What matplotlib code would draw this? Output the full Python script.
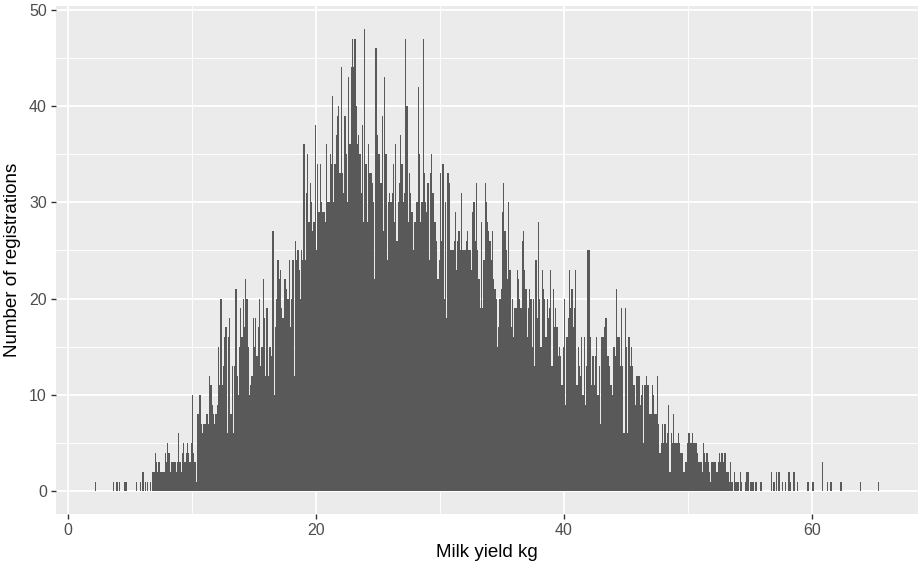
import numpy as np
import matplotlib
matplotlib.use("Agg")
import matplotlib.pyplot as plt
from matplotlib.ticker import MultipleLocator

plt.rcParams["font.family"] = ["Liberation Sans", "DejaVu Sans"]

# histogram of milk yield, 0.1 kg bins starting at 2.0 kg (one row per kg)
bin_start = 2.0
bin_width = 0.1
counts = [
    0, 0, 1, 0, 0, 0, 0, 0, 0, 0,            # 2
    0, 0, 0, 0, 0, 0, 1, 0, 0, 1,            # 3
    0, 1, 0, 0, 0, 1, 1, 1, 0, 0,            # 4
    0, 0, 0, 0, 0, 1, 0, 0, 1, 0,            # 5
    2, 0, 1, 0, 1, 0, 1, 0, 2, 2,            # 6
    4, 3, 2, 3, 2, 2, 2, 2, 4, 3,            # 7
    5, 4, 2, 3, 3, 3, 3, 2, 3, 6,            # 8
    3, 2, 4, 5, 3, 4, 5, 4, 3, 5,            # 9
    10, 4, 3, 1, 8, 8, 10, 7, 6, 7,          # 10
    7, 8, 8, 7, 12, 11, 9, 8, 7, 8,          # 11
    9, 15, 11, 20, 11, 13, 16, 17, 6, 16,    # 12
    18, 8, 13, 6, 13, 21, 12, 10, 15, 19,    # 13
    16, 20, 17, 22, 20, 15, 10, 11, 12, 18,  # 14
    15, 18, 14, 17, 20, 13, 15, 22, 18, 12,  # 15
    19, 12, 15, 15, 14, 27, 10, 17, 20, 24,  # 16
    22, 23, 19, 18, 22, 22, 21, 20, 24, 17,  # 17
    20, 24, 12, 26, 24, 25, 23, 20, 25, 24,  # 18
    36, 24, 31, 35, 28, 32, 30, 27, 28, 38,  # 19
    25, 34, 29, 34, 30, 29, 29, 28, 36, 30,  # 20
    30, 35, 34, 41, 30, 34, 37, 39, 40, 33,  # 21
    44, 33, 31, 39, 35, 30, 43, 36, 44, 47,  # 22
    44, 47, 40, 36, 37, 35, 31, 38, 28, 48,  # 23
    34, 28, 36, 33, 33, 32, 30, 22, 46, 37,  # 24
    35, 35, 32, 39, 27, 43, 35, 24, 30, 31,  # 25
    30, 31, 34, 28, 36, 26, 30, 32, 37, 34,  # 26
    30, 31, 47, 40, 28, 33, 31, 29, 25, 28,  # 27
    28, 30, 42, 35, 28, 30, 47, 33, 30, 29,  # 28
    32, 24, 33, 35, 31, 28, 28, 26, 22, 24,  # 29
    33, 26, 34, 20, 30, 18, 33, 32, 25, 25,  # 30
    25, 26, 29, 23, 26, 27, 25, 31, 25, 25,  # 31
    25, 26, 27, 25, 25, 23, 29, 30, 26, 32,  # 32
    25, 22, 19, 28, 19, 24, 32, 30, 28, 27,  # 33
    26, 24, 27, 22, 21, 20, 15, 17, 20, 21,  # 34
    29, 32, 27, 25, 22, 30, 23, 17, 20, 16,  # 35
    19, 19, 23, 22, 20, 19, 26, 27, 23, 21,  # 36
    16, 19, 21, 20, 15, 20, 13, 24, 18, 28,  # 37
    20, 15, 23, 21, 20, 16, 20, 18, 19, 23,  # 38
    13, 21, 17, 19, 17, 14, 15, 14, 11, 15,  # 39
    20, 9, 16, 18, 23, 19, 21, 17, 19, 23,   # 40
    11, 15, 13, 12, 16, 10, 16, 9, 13, 25,   # 41
    25, 16, 11, 14, 11, 14, 16, 10, 13, 7,   # 42
    16, 16, 17, 18, 18, 14, 13, 11, 11, 10,  # 43
    15, 14, 21, 16, 16, 13, 19, 13, 6, 19,   # 44
    15, 6, 16, 13, 15, 13, 11, 9, 12, 12,    # 45
    12, 9, 10, 11, 5, 11, 12, 11, 11, 8,     # 46
    8, 11, 10, 8, 8, 12, 7, 4, 5, 7,         # 47
    5, 7, 5, 6, 9, 2, 6, 5, 8, 5,            # 48
    5, 5, 6, 5, 4, 4, 2, 2, 3, 5,            # 49
    6, 6, 5, 6, 5, 5, 5, 4, 3, 3,            # 50
    3, 2, 5, 4, 3, 4, 3, 2, 1, 3,            # 51
    3, 3, 3, 2, 3, 4, 3, 4, 3, 4,            # 52
    4, 2, 2, 1, 3, 1, 0, 2, 1, 1,            # 53
    1, 0, 2, 1, 0, 0, 1, 2, 2, 0,            # 54
    1, 1, 1, 0, 1, 1, 0, 0, 1, 1,            # 55
    0, 0, 0, 0, 0, 0, 0, 2, 0, 1,            # 56
    0, 2, 0, 2, 0, 0, 1, 0, 1, 0,            # 57
    0, 2, 1, 0, 0, 2, 0, 0, 1, 0,            # 58
    0, 0, 0, 0, 0, 0, 1, 1, 0, 0,            # 59
    1, 1, 0, 0, 0, 0, 0, 0, 3, 0,            # 60
    0, 0, 1, 0, 0, 1, 0, 0, 0, 0,            # 61
    0, 0, 0, 1, 0, 0, 0, 0, 0, 0,            # 62
    0, 0, 0, 0, 0, 0, 0, 0, 0, 1,            # 63
    0, 0, 0, 0, 0, 0, 0, 0, 0, 0,            # 64
    0, 0, 0, 1,                              # 65
]
x_label = "Milk yield kg"
y_label = "Number of registrations"
x_ticks = [0, 20, 40, 60]
y_ticks = [0, 10, 20, 30, 40, 50]

edges = bin_start + bin_width * np.arange(len(counts))

W, H = 919, 567
fig = plt.figure(figsize=(W / 100, H / 100), dpi=100)
# panel in pixels: left 56, right 918, top 5.8, bottom 514.3
ax = fig.add_axes([56 / W, 1 - 514.3 / H, (918 - 56) / W, (514.3 - 5.8) / H])

ax.set_facecolor("#EBEBEB")
ax.bar(edges, counts, width=bin_width, align="edge", color="#595959",
       linewidth=0, zorder=3)

ax.set_xlim(-0.96, 68.56)
ax.set_ylim(-2.4, 50.4)
ax.set_xticks(x_ticks)
ax.set_yticks(y_ticks)
ax.xaxis.set_minor_locator(MultipleLocator(10))
ax.yaxis.set_minor_locator(MultipleLocator(5))

ax.grid(which="major", color="white", linewidth=1.3, zorder=0)
ax.grid(which="minor", color="white", linewidth=0.65, zorder=0)
ax.set_axisbelow(True)

for s in ax.spines.values():
    s.set_visible(False)

ax.tick_params(which="major", length=3.6, width=1.0, color="#333333",
               labelcolor="#4D4D4D", labelsize=11.5, pad=3)
ax.tick_params(which="minor", length=0)

ax.set_xlabel(x_label, fontsize=13.5, color="black", labelpad=4)
ax.set_ylabel(y_label, fontsize=13.5, color="black", labelpad=6)

fig.savefig("out.png", dpi=100, facecolor="white")
